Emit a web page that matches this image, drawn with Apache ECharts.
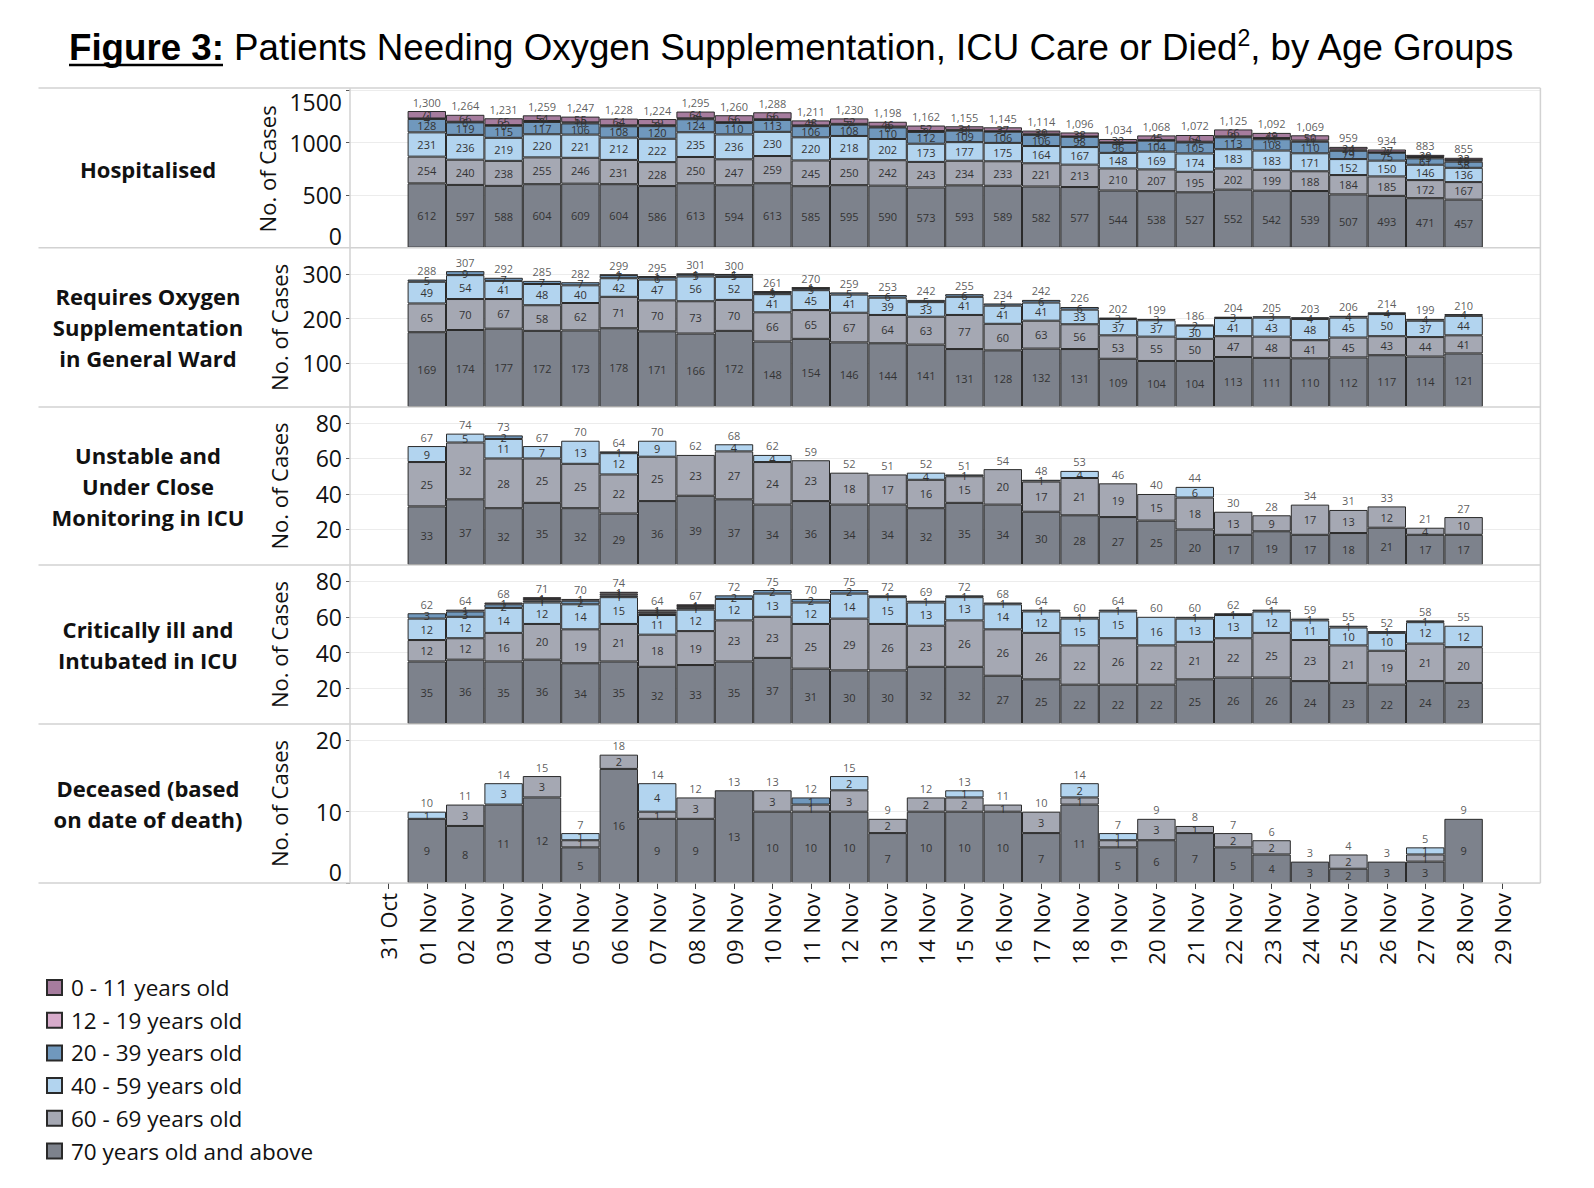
<!DOCTYPE html>
<html>
<head>
<meta charset="utf-8">
<script src="https://cdn.jsdelivr.net/npm/echarts@6/dist/echarts.min.js"></script>
<style>
    html, body { margin: 0; padding: 0; background: #fff; }
    #chart { width: 1594px; height: 1188px; }
</style>
</head>
<body>
<div id="chart"></div>
<script>
// x axis tick labels (bars sit on 01 Nov .. 28 Nov)
var dayLabels = ['31 Oct', '01 Nov', '02 Nov', '03 Nov', '04 Nov', '05 Nov', '06 Nov', '07 Nov', '08 Nov', '09 Nov',
    '10 Nov', '11 Nov', '12 Nov', '13 Nov', '14 Nov', '15 Nov', '16 Nov', '17 Nov', '18 Nov', '19 Nov',
    '20 Nov', '21 Nov', '22 Nov', '23 Nov', '24 Nov', '25 Nov', '26 Nov', '27 Nov', '28 Nov', '29 Nov'];

var ageGroups = ['0 - 11 years old', '12 - 19 years old', '20 - 39 years old', '40 - 59 years old', '60 - 69 years old', '70 years old and above'];
var ageColors = ['#a67c9e', '#d7abcb', '#7098bd', '#b2d4ef', '#a5a8b3', '#7d828c'];

// Hospitalised
var hosp70 = [612, 597, 588, 604, 609, 604, 586, 613, 594, 613, 585, 595, 590, 573, 593, 589, 582, 577, 544, 538, 527, 552, 542, 539, 507, 493, 471, 457];
var hosp60 = [254, 240, 238, 255, 246, 231, 228, 250, 247, 259, 245, 250, 242, 243, 234, 233, 221, 213, 210, 207, 195, 202, 199, 188, 184, 185, 172, 167];
var hosp40 = [231, 236, 219, 220, 221, 212, 222, 235, 236, 230, 220, 218, 202, 173, 177, 175, 164, 167, 148, 169, 174, 183, 183, 171, 152, 150, 146, 136];
var hosp20 = [128, 119, 115, 117, 106, 108, 120, 124, 110, 113, 106, 108, 110, 112, 109, 106, 106, 98, 96, 104, 105, 113, 108, 110, 79, 75, 61, 58];
var hosp12 = [4, 6, 6, 9, 10, 9, 9, 9, 7, 7, 7, 7, 8, 9, 8, 5, 11, 3, 4, 5, 7, 9, 11, 11, 13, 4, 13, 15];
var hosp0 = [71, 66, 65, 54, 55, 64, 59, 64, 66, 66, 48, 52, 46, 52, 34, 37, 30, 38, 32, 45, 64, 66, 49, 50, 24, 27, 20, 22];
var hospTotal = [1300, 1264, 1231, 1259, 1247, 1228, 1224, 1295, 1260, 1288, 1211, 1230, 1198, 1162, 1155, 1145, 1114, 1096, 1034, 1068, 1072, 1125, 1092, 1069, 959, 934, 883, 855];

// Requires oxygen supplementation in general ward
var oxy70 = [169, 174, 177, 172, 173, 178, 171, 166, 172, 148, 154, 146, 144, 141, 131, 128, 132, 131, 109, 104, 104, 113, 111, 110, 112, 117, 114, 121];
var oxy60 = [65, 70, 67, 58, 62, 71, 70, 73, 70, 66, 65, 67, 64, 63, 77, 60, 63, 56, 53, 55, 50, 47, 48, 41, 45, 43, 44, 41];
var oxy40 = [49, 54, 41, 48, 40, 42, 47, 56, 52, 41, 45, 41, 39, 33, 41, 41, 41, 33, 37, 37, 30, 41, 43, 48, 45, 50, 37, 44];
var oxy20 = [5, 9, 7, 7, 7, 7, 6, 5, 5, 5, 5, 5, 6, 5, 6, 5, 6, 6, 3, 3, 2, 3, 3, 4, 4, 4, 4, 4];
var oxy12 = [0, 0, 0, 0, 0, 0, 0, 0, 0, 0, 0, 0, 0, 0, 0, 0, 0, 0, 0, 0, 0, 0, 0, 0, 0, 0, 0, 0];
var oxy0 = [0, 0, 0, 0, 0, 1, 1, 1, 1, 1, 1, 0, 0, 0, 0, 0, 0, 0, 0, 0, 0, 0, 0, 0, 0, 0, 0, 0];
var oxyTotal = [288, 307, 292, 285, 282, 299, 295, 301, 300, 261, 270, 259, 253, 242, 255, 234, 242, 226, 202, 199, 186, 204, 205, 203, 206, 214, 199, 210];

// Unstable and under close monitoring in ICU
var uns70 = [33, 37, 32, 35, 32, 29, 36, 39, 37, 34, 36, 34, 34, 32, 35, 34, 30, 28, 27, 25, 20, 17, 19, 17, 18, 21, 17, 17];
var uns60 = [25, 32, 28, 25, 25, 22, 25, 23, 27, 24, 23, 18, 17, 16, 15, 20, 17, 21, 19, 15, 18, 13, 9, 17, 13, 12, 4, 10];
var uns40 = [9, 5, 11, 7, 13, 12, 9, 0, 4, 4, 0, 0, 0, 4, 0, 0, 0, 4, 0, 0, 6, 0, 0, 0, 0, 0, 0, 0];
var uns20 = [0, 0, 2, 0, 0, 1, 0, 0, 0, 0, 0, 0, 0, 0, 1, 0, 1, 0, 0, 0, 0, 0, 0, 0, 0, 0, 0, 0];
var uns12 = [0, 0, 0, 0, 0, 0, 0, 0, 0, 0, 0, 0, 0, 0, 0, 0, 0, 0, 0, 0, 0, 0, 0, 0, 0, 0, 0, 0];
var uns0 = [0, 0, 0, 0, 0, 0, 0, 0, 0, 0, 0, 0, 0, 0, 0, 0, 0, 0, 0, 0, 0, 0, 0, 0, 0, 0, 0, 0];
var unsTotal = [67, 74, 73, 67, 70, 64, 70, 62, 68, 62, 59, 52, 51, 52, 51, 54, 48, 53, 46, 40, 44, 30, 28, 34, 31, 33, 21, 27];

// Critically ill and intubated in ICU
var int70 = [35, 36, 35, 36, 34, 35, 32, 33, 35, 37, 31, 30, 30, 32, 32, 27, 25, 22, 22, 22, 25, 26, 26, 24, 23, 22, 24, 23];
var int60 = [12, 12, 16, 20, 19, 21, 18, 19, 23, 23, 25, 29, 26, 23, 26, 26, 26, 22, 26, 22, 21, 22, 25, 23, 21, 19, 21, 20];
var int40 = [12, 12, 14, 12, 14, 15, 11, 12, 12, 13, 12, 14, 15, 13, 13, 14, 12, 15, 15, 16, 13, 13, 12, 11, 10, 10, 12, 12];
var int20 = [3, 3, 2, 1, 2, 1, 1, 1, 2, 2, 2, 2, 1, 1, 1, 1, 1, 1, 1, 0, 1, 1, 1, 1, 1, 1, 1, 0];
var int12 = [0, 0, 0, 1, 0, 1, 1, 1, 0, 0, 0, 0, 0, 0, 0, 0, 0, 0, 0, 0, 0, 0, 0, 0, 0, 0, 0, 0];
var int0 = [0, 1, 1, 1, 1, 1, 1, 1, 0, 0, 0, 0, 0, 0, 0, 0, 0, 0, 0, 0, 0, 0, 0, 0, 0, 0, 0, 0];
var intTotal = [62, 64, 68, 71, 70, 74, 64, 67, 72, 75, 70, 75, 72, 69, 72, 68, 64, 60, 64, 60, 60, 62, 64, 59, 55, 52, 58, 55];

// Deceased (based on date of death)
var dec70 = [9, 8, 11, 12, 5, 16, 9, 9, 13, 10, 10, 10, 7, 10, 10, 10, 7, 11, 5, 6, 7, 5, 4, 3, 2, 3, 3, 9];
var dec60 = [0, 3, 0, 3, 1, 2, 1, 3, 0, 3, 1, 3, 2, 2, 2, 1, 3, 1, 1, 3, 1, 2, 2, 0, 2, 0, 1, 0];
var dec40 = [1, 0, 3, 0, 1, 0, 4, 0, 0, 0, 0, 2, 0, 0, 1, 0, 0, 2, 1, 0, 0, 0, 0, 0, 0, 0, 1, 0];
var dec20 = [0, 0, 0, 0, 0, 0, 0, 0, 0, 0, 1, 0, 0, 0, 0, 0, 0, 0, 0, 0, 0, 0, 0, 0, 0, 0, 0, 0];
var dec12 = [0, 0, 0, 0, 0, 0, 0, 0, 0, 0, 0, 0, 0, 0, 0, 0, 0, 0, 0, 0, 0, 0, 0, 0, 0, 0, 0, 0];
var dec0 = [0, 0, 0, 0, 0, 0, 0, 0, 0, 0, 0, 0, 0, 0, 0, 0, 0, 0, 0, 0, 0, 0, 0, 0, 0, 0, 0, 0];
var decTotal = [10, 11, 14, 15, 7, 18, 14, 12, 13, 13, 12, 15, 9, 12, 13, 11, 10, 14, 7, 9, 8, 7, 6, 3, 4, 3, 5, 9];

var panelTitles = ['Hospitalised', 'Requires Oxygen\nSupplementation\nin General Ward', 'Unstable and\nUnder Close\nMonitoring in ICU',
    'Critically ill and\nIntubated in ICU', 'Deceased (based\non date of death)'];

// stacking order bottom -> top: 70+, 60-69, 40-59, 20-39, 12-19, 0-11
var panels = [
    { stacks: [hosp70, hosp60, hosp40, hosp20, hosp12, hosp0], totals: hospTotal, top: 90, bottom: 247.7, max: 1500, interval: 500, ticks: [0, 500, 1000, 1500], comma: true },
    { stacks: [oxy70, oxy60, oxy40, oxy20, oxy12, oxy0], totals: oxyTotal, top: 247.7, bottom: 407, max: 360, interval: 100, ticks: [100, 200, 300] },
    { stacks: [uns70, uns60, uns40, uns20, uns12, uns0], totals: unsTotal, top: 407, bottom: 565, max: 89, interval: 20, ticks: [20, 40, 60, 80] },
    { stacks: [int70, int60, int40, int20, int12, int0], totals: intTotal, top: 565, bottom: 724, max: 89, interval: 20, ticks: [20, 40, 60, 80] },
    { stacks: [dec70, dec60, dec40, dec20, dec12, dec0], totals: decTotal, top: 724, bottom: 883, max: 22.3, interval: 10, ticks: [0, 10, 20] }
];

var FONT = 'Open Sans';
var GRID_LEFT = 350;
var STEP = 38.4;
// one empty slot on each side of 31 Oct .. 29 Nov
var xCats = [''].concat(dayLabels).concat(['']);
var GRID_WIDTH = STEP * (xCats.length - 1);
var FRAME_RIGHT = GRID_LEFT + GRID_WIDTH;
var FIRST_BAR = 2;   // category index of 01 Nov

var myChart = echarts.init(document.getElementById('chart'), null, { renderer: 'svg' });

var grids = [], xAxes = [], yAxes = [], series = [], graphics = [];

function showCat(index, value) { return value !== ''; }

panels.forEach(function (p, pi) {
    var isLast = pi === panels.length - 1;
    grids.push({ left: GRID_LEFT, width: GRID_WIDTH, top: p.top, height: p.bottom - p.top });

    xAxes.push({
        gridIndex: pi,
        type: 'category',
        data: xCats,
        boundaryGap: false,
        show: isLast,
        axisLine: { show: false },
        splitLine: { show: false },
        axisTick: {
            show: isLast,
            length: 6,
            interval: showCat,
            lineStyle: { color: '#444', width: 1 }
        },
        axisLabel: {
            show: isLast,
            interval: showCat,
            rotate: 90,
            margin: 10,
            fontFamily: FONT,
            fontSize: 22,
            color: '#111'
        }
    });

    var ticks = p.ticks;
    yAxes.push({
        gridIndex: pi,
        type: 'value',
        min: 0,
        max: p.max,
        interval: p.interval,
        name: 'No. of Cases',
        nameLocation: 'middle',
        nameGap: 60,
        nameTextStyle: { fontFamily: FONT, fontSize: 22, color: '#111' },
        axisLine: { show: false },
        axisTick: { show: true, length: 4, customValues: ticks, lineStyle: { color: '#555' } },
        splitLine: { show: true, lineStyle: { color: '#ececec', width: 1 } },
        axisLabel: {
            margin: 8,
            fontFamily: FONT,
            fontSize: 23,
            color: '#111',
            customValues: ticks,
            verticalAlignMinLabel: ticks[0] === 0 ? 'bottom' : null,
            verticalAlignMaxLabel: ticks[ticks.length - 1] === p.max ? 'top' : null,
            formatter: function (v) { return ticks.indexOf(v) >= 0 ? String(v) : ''; }
        }
    });

    // ageGroups are listed top -> bottom, stacks bottom -> top
    p.stacks.forEach(function (arr, si) {
        var gi = ageGroups.length - 1 - si;
        series.push({
            name: ageGroups[gi],
            type: 'bar',
            xAxisIndex: pi,
            yAxisIndex: pi,
            stack: 'p' + pi,
            barWidth: STEP,
            itemStyle: { color: ageColors[gi], borderColor: '#2a2a2a', borderWidth: 1 },
            label: {
                show: true,
                position: 'inside',
                fontFamily: FONT,
                fontSize: 11,
                color: '#333',
                formatter: function (prm) { return prm.value[1]; }
            },
            emphasis: { disabled: true },
            data: arr.map(function (v, d) { return [d + FIRST_BAR, v ? v : null]; })
        });
    });

    // totals above each column
    series.push({
        type: 'scatter',
        xAxisIndex: pi,
        yAxisIndex: pi,
        symbolSize: 1,
        itemStyle: { color: 'rgba(0,0,0,0)' },
        label: {
            show: true,
            position: 'top',
            distance: 3,
            fontFamily: FONT,
            fontSize: 11,
            color: '#333',
            formatter: function (prm) {
                var t = prm.value[1];
                return p.comma ? t.toLocaleString('en-US') : String(t);
            }
        },
        emphasis: { disabled: true },
        silent: true,
        data: p.totals.map(function (t, d) { return [d + FIRST_BAR, t]; })
    });

    graphics.push({
        type: 'text',
        x: 148,
        y: (p.top + p.bottom) / 2,
        style: {
            text: panelTitles[pi],
            align: 'center',
            verticalAlign: 'middle',
            fontFamily: FONT,
            fontSize: 22,
            fontWeight: 'bold',
            lineHeight: 31,
            fill: '#111'
        }
    });
});

// frame lines
var frameYs = [88, 247.7, 407, 565, 724, 883];
frameYs.forEach(function (y) {
    graphics.push({ type: 'line', z: 50, shape: { x1: 38.5, y1: y, x2: FRAME_RIGHT, y2: y }, style: { stroke: '#d2d2d2', lineWidth: 1.5 } });
});
graphics.push({ type: 'line', z: 50, shape: { x1: GRID_LEFT, y1: 88, x2: GRID_LEFT, y2: 883 }, style: { stroke: '#d2d2d2', lineWidth: 1.5 } });
graphics.push({ type: 'line', z: 50, shape: { x1: FRAME_RIGHT, y1: 88, x2: FRAME_RIGHT, y2: 883 }, style: { stroke: '#d2d2d2', lineWidth: 1.5 } });
// underline of "Figure 3:"
graphics.push({ type: 'line', shape: { x1: 69, y1: 65, x2: 223, y2: 65 }, style: { stroke: '#000', lineWidth: 2.5 } });

var option = {
    animation: false,
    backgroundColor: '#fff',
    title: {
        text: '{b|Figure 3:} Patients Needing Oxygen Supplementation, ICU Care or Died{s|2}, by Age Groups',
        left: 69,
        top: 26,
        padding: 0,
        textStyle: {
            fontFamily: 'Liberation Sans',
            fontSize: 36.7,
            fontWeight: 'normal',
            color: '#000',
            lineHeight: 42,
            rich: {
                b: { fontFamily: 'Liberation Sans', fontSize: 36.7, fontWeight: 'bold', color: '#000', lineHeight: 42 },
                s: { fontFamily: 'Liberation Sans', fontSize: 23, color: '#000', lineHeight: 42, verticalAlign: 'top' }
            }
        }
    },
    legend: {
        data: ageGroups,
        orient: 'vertical',
        left: 46,
        top: 976,
        padding: 0,
        icon: 'rect',
        itemWidth: 15,
        itemHeight: 15,
        itemGap: 9.7,
        selectedMode: false,
        textStyle: { fontFamily: FONT, fontSize: 22.5, color: '#111', lineHeight: 22, padding: [0, 0, 0, 4] }
    },
    grid: grids,
    xAxis: xAxes,
    yAxis: yAxes,
    series: series,
    graphic: graphics
};

myChart.setOption(option);
</script>
</body>
</html>
